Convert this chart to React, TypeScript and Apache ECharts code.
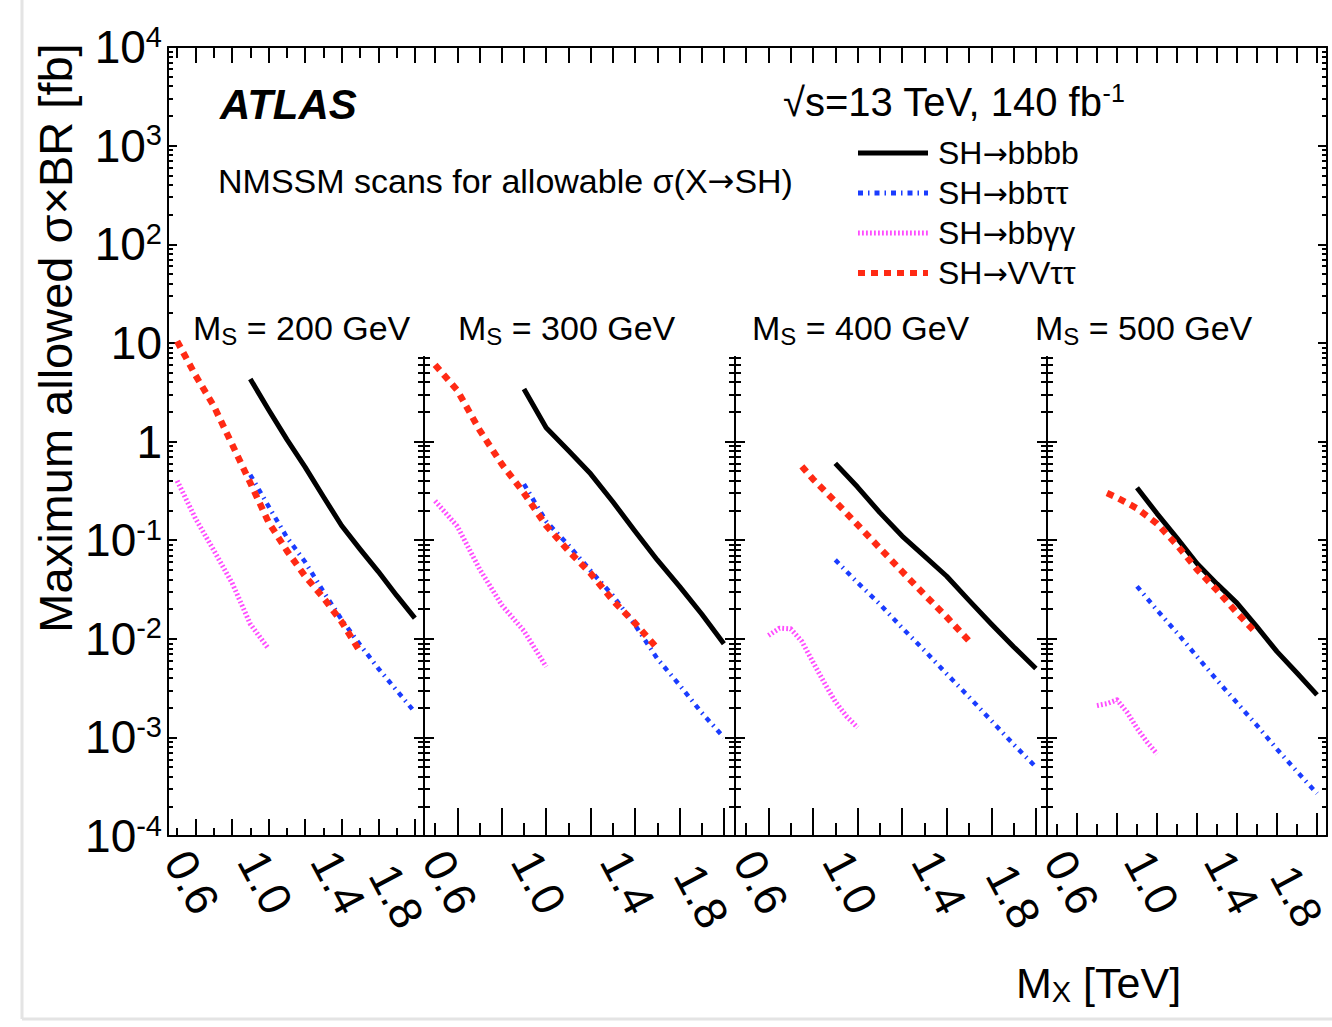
import React, { useEffect, useRef } from 'react';
import * as echarts from 'echarts';

const FONT = '"Liberation Sans", Arial, Helvetica, sans-serif';
const ARROW_FONT = '"DejaVu Sans", "Liberation Sans", sans-serif';

// ---------- texts / categories ----------
const msValues = ['200', '300', '400', '500'];
const seriesNames = ['SH→bbbb', 'SH→bbττ', 'SH→bbγγ', 'SH→VVττ'];

// ---------- tick definitions ----------
const xMinorTicks = [0.6, 0.7, 0.8, 0.9, 1.0, 1.1, 1.2, 1.3, 1.4, 1.5, 1.6, 1.7, 1.8, 1.9];
const xMajorTicks = [0.7, 0.9, 1.1, 1.3, 1.5, 1.7, 1.9];
const xTickLabels = [0.6, 1.0, 1.4];
const xLastTickLabel = [1.8];
const yDecadeExponents = [-4, -3, -2, -1, 0, 1, 2, 3, 4];
const yMinorFactors = [2, 3, 4, 5, 6, 7, 8, 9];

// ---------- data: [M_X (TeV), sigma x BR (fb)] ----------
// M_S = 200 GeV
const ms200_bbbb = [[1.0, 4.3], [1.1, 2.1], [1.2, 1.05], [1.3, 0.55], [1.4, 0.275], [1.5, 0.14], [1.6, 0.081], [1.7, 0.048], [1.8, 0.0275], [1.9, 0.0162]];
const ms200_bbtt = [[1.0, 0.46], [1.1, 0.22], [1.2, 0.107], [1.3, 0.06], [1.4, 0.03], [1.5, 0.0156], [1.6, 0.0087], [1.7, 0.005], [1.8, 0.003], [1.9, 0.0018]];
const ms200_bbyy = [[0.6, 0.4], [0.7, 0.166], [0.8, 0.079], [0.9, 0.037], [1.0, 0.0141], [1.1, 0.0079]];
const ms200_vvtt = [[0.6, 10.4], [0.7, 4.7], [0.8, 2.3], [0.9, 0.94], [1.0, 0.38], [1.1, 0.152], [1.2, 0.078], [1.3, 0.043], [1.4, 0.026], [1.5, 0.0148], [1.6, 0.0074]];
// M_S = 300 GeV
const ms300_bbbb = [[1.0, 3.4], [1.1, 1.38], [1.2, 0.81], [1.3, 0.47], [1.4, 0.245], [1.5, 0.123], [1.6, 0.063], [1.7, 0.034], [1.8, 0.0178], [1.9, 0.0089]];
const ms300_bbtt = [[1.0, 0.37], [1.1, 0.155], [1.2, 0.089], [1.3, 0.049], [1.4, 0.0275], [1.5, 0.0138], [1.6, 0.0063], [1.7, 0.0034], [1.8, 0.00178], [1.9, 0.001]];
const ms300_bbyy = [[0.6, 0.25], [0.7, 0.138], [0.8, 0.051], [0.9, 0.022], [1.0, 0.012], [1.1, 0.0052]];
const ms300_vvtt = [[0.6, 6.0], [0.7, 3.3], [0.8, 1.31], [0.9, 0.59], [1.0, 0.3], [1.1, 0.14], [1.2, 0.078], [1.3, 0.046], [1.4, 0.0245], [1.5, 0.0144], [1.6, 0.008]];
// M_S = 400 GeV
const ms400_bbbb = [[1.0, 0.6], [1.1, 0.345], [1.2, 0.19], [1.3, 0.11], [1.4, 0.069], [1.5, 0.043], [1.6, 0.0245], [1.7, 0.0141], [1.8, 0.0083], [1.9, 0.005]];
const ms400_bbtt = [[1.0, 0.063], [1.1, 0.037], [1.2, 0.0224], [1.3, 0.0129], [1.4, 0.0076], [1.5, 0.0044], [1.6, 0.00257], [1.7, 0.00148], [1.8, 0.00085], [1.9, 0.0005]];
const ms400_bbyy = [[0.7, 0.0108], [0.75, 0.0128], [0.8, 0.0126], [0.85, 0.0094], [0.9, 0.0058], [0.95, 0.0036], [1.0, 0.0023], [1.05, 0.00164], [1.1, 0.00126]];
const ms400_vvtt = [[0.85, 0.56], [0.9, 0.415], [1.0, 0.246], [1.1, 0.143], [1.2, 0.083], [1.3, 0.048], [1.4, 0.028], [1.5, 0.0166], [1.6, 0.0095]];
// M_S = 500 GeV
const ms500_bbbb = [[1.0, 0.34], [1.1, 0.186], [1.2, 0.105], [1.3, 0.058], [1.4, 0.036], [1.5, 0.023], [1.6, 0.0132], [1.7, 0.0074], [1.8, 0.0045], [1.9, 0.0027]];
const ms500_bbtt = [[1.0, 0.034], [1.1, 0.0195], [1.2, 0.0115], [1.3, 0.0066], [1.4, 0.0038], [1.5, 0.00224], [1.6, 0.00132], [1.7, 0.00076], [1.8, 0.00045], [1.9, 0.00027]];
const ms500_bbyy = [[0.8, 0.0021], [0.85, 0.0022], [0.9, 0.0024], [0.95, 0.0018], [1.0, 0.00124], [1.05, 0.0009], [1.1, 0.00068]];
const ms500_vvtt = [[0.85, 0.3], [0.9, 0.27], [1.0, 0.21], [1.1, 0.147], [1.2, 0.089], [1.3, 0.0505], [1.4, 0.031], [1.5, 0.0183], [1.6, 0.0112]];

const panelData = [
  [ms200_bbbb, ms200_bbtt, ms200_bbyy, ms200_vvtt],
  [ms300_bbbb, ms300_bbtt, ms300_bbyy, ms300_vvtt],
  [ms400_bbbb, ms400_bbtt, ms400_bbyy, ms400_vvtt],
  [ms500_bbbb, ms500_bbtt, ms500_bbyy, ms500_vvtt],
];

// ---------- styles ----------
const seriesColors = ['#000000', '#1a3cff', '#ff4dff', '#ff2a14'];
const seriesWidths = [5, 4.5, 5, 6.5];
const seriesDash: any[] = ['solid', [5, 5, 1.5, 5], [1.8, 2.2], [7, 6]];
const legendWidths = [5, 5, 5, 6];

// ---------- layout ----------
const panelEdges = [168, 424, 735, 1047, 1327];
const PLOT_TOP = 47;
const PLOT_BOTTOM = 836;
const DIVIDER_TOP = 357;
const bottomTickShort = [8, 13, 13, 12];
const bottomTickTall = [17, 28, 28, 23];
const topTickShort = [11, 16, 16, 16];
const topTickTall = [16, 16, 16, 16];

const DECADE_PX = (PLOT_BOTTOM - PLOT_TOP) / 8;
const DIV_MAX = -4 + (PLOT_BOTTOM - DIVIDER_TOP) / DECADE_PX;

const BLACK = '#000';
const axisLine = { show: true, onZero: false, lineStyle: { color: BLACK, width: 2 } };
const noLine = { show: false, onZero: false };
const tickLine = { color: BLACK, width: 2 };

function minorExponents(hi: number) {
  const out: number[] = [];
  for (let n = -4; n < 4; n++) {
    for (const k of yMinorFactors) {
      const v = n + Math.log10(k);
      if (v <= hi) out.push(v);
    }
  }
  return out;
}

function expLabel(v: number) {
  const e = Math.round(Math.log10(v));
  if (e === 0) return '1';
  if (e === 1) return '10';
  return '10{sup|' + e + '}';
}

const arrowRich = { arr: { fontFamily: ARROW_FONT, fontSize: 30, fill: BLACK, color: BLACK } };
const withArrow = (s: string) => s.replace('→', '{arr|→}');

function buildOption() {
  const grids: any[] = [];
  const xAxes: any[] = [];
  const yAxes: any[] = [];
  const series: any[] = [];

  // frame grid
  grids.push({ left: panelEdges[0], top: PLOT_TOP, width: panelEdges[4] - panelEdges[0], height: PLOT_BOTTOM - PLOT_TOP, outerBoundsMode: 'none', containLabel: false });
  xAxes.push({ gridIndex: 0, type: 'value', position: 'top', min: 0, max: 1, axisLine, axisTick: { show: false }, axisLabel: { show: false }, splitLine: { show: false } });
  yAxes.push({
    gridIndex: 0, type: 'log', logBase: 10, min: 1e-4, max: 1e4, position: 'left', splitNumber: 8,
    axisLine, axisTick: { show: true, inside: true, length: 9, lineStyle: tickLine },
    minorTick: { show: false }, splitLine: { show: false },
    axisLabel: {
      show: true, margin: 6, color: BLACK, fontFamily: FONT, fontSize: 46, lineHeight: 50,
      formatter: expLabel,
      rich: { sup: { fontSize: 29, lineHeight: 28, verticalAlign: 'top', fontFamily: FONT, color: BLACK } },
    },
  });
  const frameMinor = minorExponents(4);
  yAxes.push({ gridIndex: 0, type: 'value', min: -4, max: 4, position: 'left', axisLine: noLine, axisTick: { show: true, inside: true, length: 5, customValues: frameMinor, lineStyle: tickLine }, axisLabel: { show: false }, splitLine: { show: false } });
  yAxes.push({ gridIndex: 0, type: 'value', min: -4, max: 4, position: 'right', axisLine, axisTick: { show: true, inside: true, length: 9, customValues: yDecadeExponents, lineStyle: tickLine }, axisLabel: { show: false }, splitLine: { show: false } });
  yAxes.push({ gridIndex: 0, type: 'value', min: -4, max: 4, position: 'right', axisLine: noLine, axisTick: { show: true, inside: true, length: 5, customValues: frameMinor, lineStyle: tickLine }, axisLabel: { show: false }, splitLine: { show: false } });

  const xLabelStyle = { fontSize: 46, lineHeight: 34, fontFamily: FONT, color: BLACK, formatter: (v: number) => v.toFixed(1) };

  // panel grids (data)
  for (let i = 0; i < 4; i++) {
    const gi = grids.length;
    grids.push({ left: panelEdges[i], top: PLOT_TOP, width: panelEdges[i + 1] - panelEdges[i], height: PLOT_BOTTOM - PLOT_TOP, outerBoundsMode: 'none', containLabel: false });
    const xi = xAxes.length;
    xAxes.push({
      gridIndex: gi, type: 'value', min: 0.55, max: 1.95, position: 'bottom', axisLine,
      axisTick: { show: true, inside: true, length: bottomTickShort[i], customValues: xMinorTicks, lineStyle: tickLine },
      axisLabel: { show: true, customValues: xTickLabels, rotate: -62, margin: 18, ...xLabelStyle },
      splitLine: { show: false },
    });
    xAxes.push({ gridIndex: gi, type: 'value', min: 0.55, max: 1.95, position: 'bottom', axisLine: noLine, axisTick: { show: true, inside: true, length: bottomTickTall[i], customValues: xMajorTicks, lineStyle: tickLine }, axisLabel: { show: false }, splitLine: { show: false } });
    xAxes.push({
      gridIndex: gi, type: 'value', min: 0.55, max: 1.95, position: 'bottom', axisLine: noLine, axisTick: { show: false },
      axisLabel: { show: true, customValues: xLastTickLabel, rotate: -62, margin: 60, align: 'center', verticalAlign: 'middle', ...xLabelStyle, fontSize: i === 3 ? 44 : 46 },
      splitLine: { show: false },
    });
    xAxes.push({ gridIndex: gi, type: 'value', min: 0.55, max: 1.95, position: 'top', axisLine: noLine, axisTick: { show: true, inside: true, length: topTickShort[i], customValues: xMinorTicks, lineStyle: tickLine }, axisLabel: { show: false }, splitLine: { show: false } });
    xAxes.push({ gridIndex: gi, type: 'value', min: 0.55, max: 1.95, position: 'top', axisLine: noLine, axisTick: { show: true, inside: true, length: topTickTall[i], customValues: xMajorTicks, lineStyle: tickLine }, axisLabel: { show: false }, splitLine: { show: false } });
    const yi = yAxes.length;
    yAxes.push({ gridIndex: gi, type: 'log', logBase: 10, min: 1e-4, max: 1e4, show: false, axisLine: noLine });

    panelData[i].forEach((data, s) => {
      series.push({
        type: 'line', name: seriesNames[s], xAxisIndex: xi, yAxisIndex: yi, data,
        symbol: 'none', showSymbol: false, silent: true, z: 3 + s,
        lineStyle: { color: seriesColors[s], width: seriesWidths[s], type: seriesDash[s], cap: 'butt', join: 'round' },
        itemStyle: { color: seriesColors[s] },
      });
    });
  }

  // divider grids (panel frames below the top region)
  const divMajor = [-4, -3, -2, -1, 0];
  const divMinor = minorExponents(DIV_MAX);
  for (let i = 0; i < 4; i++) {
    const gi = grids.length;
    grids.push({ left: panelEdges[i], top: DIVIDER_TOP, width: panelEdges[i + 1] - panelEdges[i], height: PLOT_BOTTOM - DIVIDER_TOP, outerBoundsMode: 'none', containLabel: false });
    xAxes.push({ gridIndex: gi, type: 'value', min: 0, max: 1, show: false, axisLine: noLine });
    const sides: string[] = [];
    if (i > 0) sides.push('left');
    if (i < 3) sides.push('right');
    for (const side of sides) {
      yAxes.push({ gridIndex: gi, type: 'value', min: -4, max: DIV_MAX, position: side, axisLine, axisTick: { show: true, inside: true, length: 10, customValues: divMajor, lineStyle: tickLine }, axisLabel: { show: false }, splitLine: { show: false } });
      yAxes.push({ gridIndex: gi, type: 'value', min: -4, max: DIV_MAX, position: side, axisLine: noLine, axisTick: { show: true, inside: true, length: 6, customValues: divMinor, lineStyle: tickLine }, axisLabel: { show: false }, splitLine: { show: false } });
    }
  }

  const graphic: any[] = [
    { type: 'line', silent: true, shape: { x1: 22, y1: 0, x2: 22, y2: 1019 }, style: { stroke: '#e4e4e4', lineWidth: 3 } },
    { type: 'line', silent: true, shape: { x1: 22, y1: 1019, x2: 1332, y2: 1019 }, style: { stroke: '#e4e4e4', lineWidth: 3 } },
    { type: 'text', x: 220, y: 104, style: { text: 'ATLAS', fontSize: 42, fontWeight: 'bold', fontStyle: 'italic', fontFamily: FONT, fill: BLACK, verticalAlign: 'middle' } },
    {
      type: 'text', x: 783, y: 102,
      style: { text: '√s=13 TeV, 140 fb{sup|-1}', fontSize: 40, lineHeight: 44, fontFamily: FONT, fill: BLACK, verticalAlign: 'middle', rich: { sup: { fontSize: 25, lineHeight: 24, verticalAlign: 'top', fontFamily: FONT, fill: BLACK } } },
    },
    { type: 'text', x: 218, y: 181, style: { text: withArrow('NMSSM scans for allowable σ(X→SH)'), fontSize: 34, fontFamily: FONT, fill: BLACK, verticalAlign: 'middle', rich: { arr: { fontFamily: ARROW_FONT, fontSize: 32, fill: BLACK } } } },
    { type: 'text', x: 55, y: 338, rotation: Math.PI / 2, style: { text: 'Maximum allowed σ×BR [fb]', fontSize: 47, fontFamily: FONT, fill: BLACK, align: 'center', verticalAlign: 'middle' } },
    {
      type: 'text', x: 1016, y: 983,
      style: { text: 'M{sub|X} [TeV]', fontSize: 43, lineHeight: 46, fontFamily: FONT, fill: BLACK, verticalAlign: 'middle', rich: { sub: { fontSize: 29, lineHeight: 16, verticalAlign: 'bottom', fontFamily: FONT, fill: BLACK } } },
    },
  ];
  const panelLabelX = [193, 458, 752, 1035];
  msValues.forEach((ms, i) => {
    graphic.push({
      type: 'text', x: panelLabelX[i], y: 328,
      style: { text: 'M{sub|S} = ' + ms + ' GeV', fontSize: 34, lineHeight: 40, fontFamily: FONT, fill: BLACK, verticalAlign: 'middle', rich: { sub: { fontSize: 24, lineHeight: 14, verticalAlign: 'bottom', fontFamily: FONT, fill: BLACK } } },
    });
  });

  return {
    animation: false,
    backgroundColor: '#ffffff',
    grid: grids,
    xAxis: xAxes,
    yAxis: yAxes,
    series,
    legend: {
      data: seriesNames.map((n, s) => ({ name: n, lineStyle: { width: legendWidths[s] } })),
      orient: 'vertical', left: 850, top: 132,
      itemWidth: 70, itemHeight: 20, itemGap: 8,
      selectedMode: false,
      itemStyle: { opacity: 0, borderWidth: 0 },
      formatter: (name: string) => withArrow(name),
      textStyle: { fontSize: 32, lineHeight: 32, fontFamily: FONT, color: BLACK, padding: [0, 0, 0, 5], rich: arrowRich },
    },
    graphic,
  };
}

export default function App() {
  const ref = useRef<HTMLDivElement>(null);
  useEffect(() => {
    if (!ref.current) return;
    const chart = echarts.init(ref.current, null, { renderer: 'svg' });
    chart.setOption(buildOption() as any);
    return () => chart.dispose();
  }, []);
  return <div ref={ref} style={{ position: 'fixed', left: 0, top: 0, width: 1332, height: 1027, background: '#fff' }} />;
}
